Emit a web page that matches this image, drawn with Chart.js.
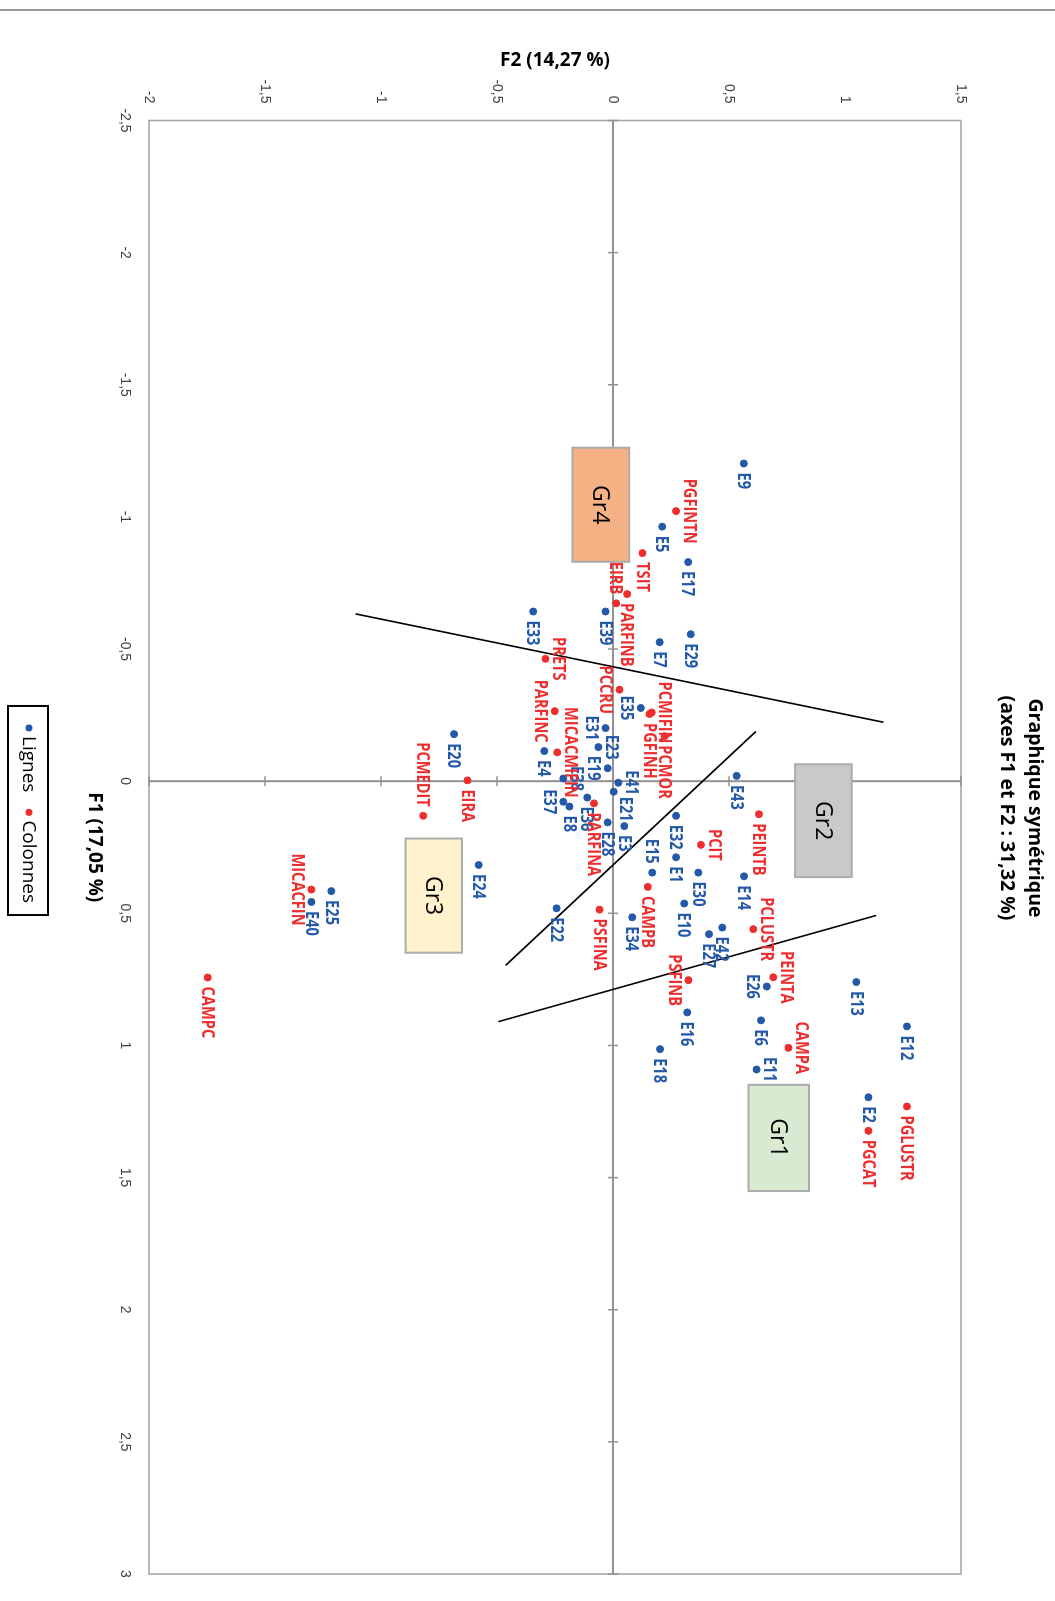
<!DOCTYPE html>
<html>
<head>
<meta charset="utf-8">
<script src="https://cdn.jsdelivr.net/npm/chart.js@4.4.0/dist/chart.umd.min.js"></script>
<style>
html, body { margin: 0; padding: 0; background: #fff; overflow: hidden; }
#wrap { position: absolute; left: 0; top: 0; width: 1601px; height: 1055px;
        transform-origin: 0 0; transform: translate(1055px, 0) rotate(90deg); }
#myChart { display: block; }
</style>
</head>
<body>
<div id="wrap"><canvas id="myChart" width="1601" height="1055"></canvas></div>
<script>
// rows (Lignes)
const rowNames = ['E1','E2','E3','E4','E5','E6','E7','E8','E9','E10','E11','E12','E13','E14','E15','E16','E17','E18','E19','E20','E21','E22','E23','E24','E25','E26','E27','E28','E29','E30','E31','E32','E33','E34','E35','E36','E37','E38','E39','E40','E41','E42','E43'];
const rowF1 = [0.288,1.196,0.170,-0.114,-0.963,0.905,-0.526,0.096,-1.202,0.463,1.091,0.928,0.760,0.360,0.346,0.875,-0.829,1.014,-0.049,-0.178,0.040,0.481,-0.129,0.317,0.416,0.777,0.579,0.156,-0.556,0.346,-0.201,0.131,-0.642,0.515,-0.277,0.062,0.078,-0.010,-0.642,0.457,0.006,0.554,-0.020];
const rowF2 = [0.272,1.101,0.049,-0.296,0.212,0.638,0.201,-0.188,0.564,0.307,0.619,1.267,1.049,0.565,0.169,0.320,0.324,0.203,-0.023,-0.685,0.003,-0.243,-0.063,-0.579,-1.214,0.663,0.414,-0.023,0.335,0.368,-0.032,0.272,-0.344,0.083,0.120,-0.111,-0.214,-0.214,-0.032,-1.300,0.023,0.471,0.533];

// columns (Colonnes)
const colNames = ['PGFINTN','TSIT','PARFINB','EIRB','PRETS','PCCRU','PGFINH','PCMIFIN','PCMOR','PARFINC','MICACMIFIN','EIRA','PARFINA','PCMEDIT','MICACFIN','CAMPC','PCIT','PEINTB','PCLUSTR','CAMPB','PSFINA','PEINTA','PSFINB','CAMPA','PGLUSTR','PGCAT'];
const colF1 = [-1.022,-0.863,-0.708,-0.673,-0.463,-0.346,-0.254,-0.260,-0.170,-0.265,-0.109,-0.003,0.084,0.131,0.410,0.743,0.241,0.125,0.560,0.400,0.486,0.742,0.753,1.009,1.231,1.323];
const colF2 = [0.272,0.127,0.061,0.014,-0.291,0.028,0.157,0.167,0.222,-0.251,-0.240,-0.627,-0.082,-0.818,-1.300,-1.747,0.379,0.629,0.605,0.150,-0.058,0.691,0.325,0.756,1.267,1.101];

// axes
const f1Ticks = [-2.5,-2,-1.5,-1,-0.5,0,0.5,1,1.5,2,2.5,3];
const f2Ticks = [-2,-1.5,-1,-0.5,0,0.5,1,1.5];

// groups drawn on the map (F1 range, F2 range)
const groupNames = ['Gr1','Gr2','Gr3','Gr4'];
const groupF1 = [[1.149,1.551],[-0.064,0.363],[0.217,0.649],[-1.262,-0.830]];
const groupF2 = [[0.584,0.845],[0.785,1.029],[-0.894,-0.651],[-0.175,0.070]];
const groupColors = ['#D9EAD3','#C9C9C9','#FFF2CC','#F4B183'];

// hand drawn separating lines [F1a, F2a, F1b, F2b]
const sepLines = [[-0.633,-1.110,-0.223,1.166],[0.697,-0.463,-0.188,0.616],[0.910,-0.494,0.508,1.135]];

const blue = '#2458A8', red = '#EE2E2E';
const fmt = v => String(v).replace('.', ',');

function line(ctx, x1, y1, x2, y2) {
    ctx.beginPath(); ctx.moveTo(x1, y1); ctx.lineTo(x2, y2); ctx.stroke();
}

const biplot = {
    id: 'biplot',
    beforeDatasetsDraw(chart) {
        const {ctx, chartArea: a, scales: {x, y}} = chart;
        ctx.save();
        // rule at page top
        ctx.strokeStyle = '#9a9a9a'; ctx.lineWidth = 2;
        line(ctx, 10, 0, 10, chart.height);
        // frame
        ctx.strokeStyle = '#a3a3a3'; ctx.lineWidth = 1.5;
        ctx.strokeRect(a.left, a.top, a.width, a.height);
        // axes through origin
        const x0 = x.getPixelForValue(0), y0 = y.getPixelForValue(0);
        ctx.strokeStyle = '#929292'; ctx.lineWidth = 2;
        line(ctx, x0, a.top, x0, a.bottom);
        line(ctx, a.left, y0, a.right, y0);
        ctx.lineWidth = 1.5;
        f1Ticks.forEach(v => { const p = x.getPixelForValue(v); line(ctx, p, y0 - 5, p, y0 + 5); });
        f2Ticks.forEach(v => { const p = y.getPixelForValue(v); line(ctx, x0 - 5, p, x0 + 5, p); });
        // separating lines
        ctx.strokeStyle = '#000'; ctx.lineWidth = 1.6;
        sepLines.forEach(l => line(ctx, x.getPixelForValue(l[0]), y.getPixelForValue(l[1]), x.getPixelForValue(l[2]), y.getPixelForValue(l[3])));
        // group boxes
        ctx.font = '23px "Open Sans"'; ctx.textAlign = 'center'; ctx.textBaseline = 'middle';
        groupNames.forEach((g, i) => {
            const l = x.getPixelForValue(groupF1[i][0]), r = x.getPixelForValue(groupF1[i][1]);
            const t = y.getPixelForValue(groupF2[i][1]), b = y.getPixelForValue(groupF2[i][0]);
            ctx.fillStyle = groupColors[i]; ctx.fillRect(l, t, r - l, b - t);
            ctx.strokeStyle = '#ababab'; ctx.lineWidth = 2; ctx.strokeRect(l, t, r - l, b - t);
            ctx.fillStyle = '#000'; ctx.fillText(g, (l + r) / 2, (t + b) / 2 + 1);
        });
        ctx.restore();
    },
    afterDatasetsDraw(chart) {
        const {ctx, scales: {x, y}} = chart;
        ctx.save();
        // obstacles: dots and group boxes
        const obst = [];
        chart.data.datasets.forEach((ds, di) => chart.getDatasetMeta(di).data.forEach(p => obst.push([p.x - 4, p.y - 4, 8, 8])));
        groupNames.forEach((g, i) => {
            const l = x.getPixelForValue(groupF1[i][0]), r = x.getPixelForValue(groupF1[i][1]);
            const t = y.getPixelForValue(groupF2[i][1]), b = y.getPixelForValue(groupF2[i][0]);
            obst.push([l, t, r - l, b - t]);
        });
        const over = (p, q) => {
            const w = Math.min(p[0] + p[2], q[0] + q[2]) - Math.max(p[0], q[0]);
            const h = Math.min(p[1] + p[3], q[1] + q[3]) - Math.max(p[1], q[1]);
            return (w > 0 && h > 0) ? w * h : 0;
        };
        const placed = [];
        const sx = 0.86;  // narrower glyphs, closer to the original font
        ctx.font = 'bold 17px "Open Sans"'; ctx.textAlign = 'left'; ctx.textBaseline = 'middle';
        chart.data.datasets.forEach((ds, di) => {
            const meta = chart.getDatasetMeta(di);
            ctx.fillStyle = ds.borderColor;
            meta.data.forEach((pt, i) => {
                const name = ds.names[i];
                const w = ctx.measureText(name).width * sx, h = 13;
                const px = pt.x, py = pt.y;
                const cands = [
                    [px + 9, py - h / 2],
                    [px - w / 2, py - 7 - h],
                    [px - w / 2, py + 7],
                    [px - 9 - w, py - h / 2],
                    [px + 5, py - 6 - h],
                    [px + 5, py + 6]
                ];
                let best = null, bestScore = Infinity;
                for (const c of cands) {
                    const r = [c[0], c[1], w, h];
                    let s = 0;
                    placed.forEach(q => s += over(r, q));
                    obst.forEach(q => { if (!(Math.abs(q[0] + 4 - px) < 0.01 && Math.abs(q[1] + 4 - py) < 0.01)) s += over(r, q); });
                    if (s < bestScore) { bestScore = s; best = r; }
                    if (s === 0) break;
                }
                placed.push(best);
                ctx.save();
                ctx.translate(best[0], best[1] + h / 2 + 1);
                ctx.scale(sx, 1);
                ctx.fillText(name, 0, 0);
                ctx.restore();
            });
        });
        // legend with frame
        ctx.font = '19px "Open Sans"';
        const items = chart.data.datasets.map(ds => ({text: ds.label, color: ds.borderColor, w: ctx.measureText(ds.label).width}));
        const total = 18 + items.reduce((s, it) => s + 12 + it.w + 16, 0) - 4;
        const L = chart.width / 2 + 10 - total / 2, T = 1007, H = 40;
        ctx.strokeStyle = '#000'; ctx.lineWidth = 2; ctx.strokeRect(L, T, total, H);
        let cx = L + 18;
        items.forEach(it => {
            ctx.fillStyle = it.color; ctx.beginPath(); ctx.arc(cx + 4, T + H / 2 - 1, 3.5, 0, Math.PI * 2); ctx.fill();
            ctx.fillStyle = '#000'; ctx.fillText(it.text, cx + 12, T + H / 2);
            cx += 12 + it.w + 16;
        });
        ctx.restore();
    }
};

const pts = (a, b) => a.map((v, i) => ({x: v, y: b[i]}));
const tickFont = {family: '"Liberation Sans"', size: 14};
const titleFont = {family: '"Open Sans"', size: 19, weight: 'bold'};

const ctx = document.getElementById('myChart');
const chart = new Chart(ctx, {
    type: 'scatter',
    data: {
        datasets: [
            {label: 'Lignes', names: rowNames, data: pts(rowF1, rowF2), backgroundColor: blue, borderColor: blue, pointRadius: 3.5, pointHoverRadius: 3.5},
            {label: 'Colonnes', names: colNames, data: pts(colF1, colF2), backgroundColor: red, borderColor: red, pointRadius: 3.5, pointHoverRadius: 3.5}
        ]
    },
    options: {
        responsive: false,
        animation: false,
        devicePixelRatio: 1,
        layout: {padding: {left: 42, right: 27, top: 0, bottom: 80}},
        plugins: {
            legend: {display: false},
            tooltip: {enabled: false},
            title: {
                display: true,
                text: ['Graphique symétrique', '(axes F1 et F2 : 31,32 %)'],
                color: '#000',
                font: {family: '"Open Sans"', size: 19.5, weight: 'bold', lineHeight: 1.436},
                padding: {top: 6, bottom: 32}
            }
        },
        scales: {
            x: {
                type: 'linear', min: -2.5, max: 3,
                afterBuildTicks: s => { s.ticks = f1Ticks.map(v => ({value: v})); },
                afterFit: s => { s.height = 69; },
                ticks: {callback: fmt, font: tickFont, color: '#404040', padding: 15.6, maxRotation: 0, autoSkip: false},
                grid: {display: false, drawTicks: false},
                border: {display: false},
                title: {display: true, text: 'F1 (17,05 %)', color: '#000', font: titleFont, padding: {top: 4, bottom: 2.6}}
            },
            y: {
                type: 'linear', min: -2, max: 1.5,
                afterBuildTicks: s => { s.ticks = f2Ticks.map(v => ({value: v})); },
                afterFit: s => { s.width = 78.5; },
                ticks: {callback: fmt, font: tickFont, color: '#404040', padding: 17, autoSkip: false},
                grid: {display: false, drawTicks: false},
                border: {display: false},
                title: {display: true, text: 'F2 (14,27 %)', color: '#000', font: titleFont, padding: {top: 7.6, bottom: 4}}
            }
        }
    },
    plugins: [biplot]
});
</script>
</body>
</html>
